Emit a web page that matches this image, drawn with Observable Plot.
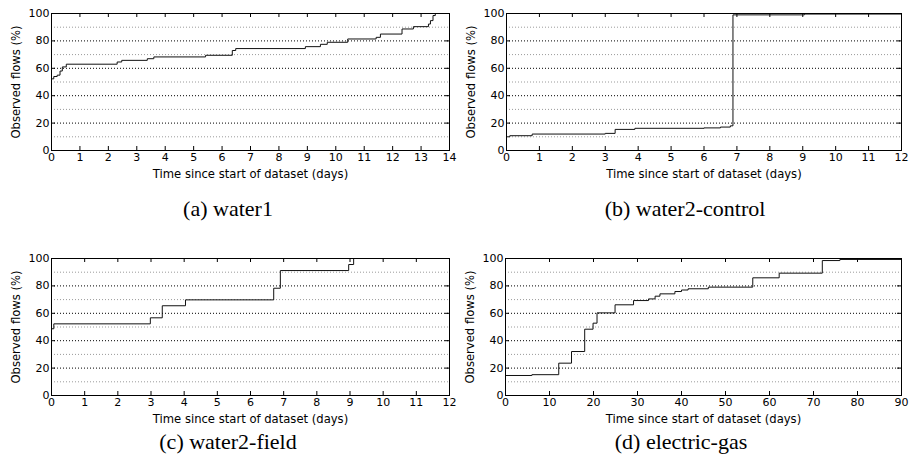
<!DOCTYPE html>
<html><head><meta charset="utf-8">
<script src="https://cdn.jsdelivr.net/npm/d3@7"></script>
<script src="https://cdn.jsdelivr.net/npm/@observablehq/plot@0.6"></script>
<style>
body{margin:0;background:#fff}
#wrap{position:relative;width:911px;height:464px;overflow:hidden;background:#fff}
.panel{position:absolute}
.cap{position:absolute;font-family:"Liberation Serif","DejaVu Serif",serif;font-size:22px;color:#000;transform:translateX(-50%);white-space:nowrap;line-height:1}
</style></head><body><div id="wrap"></div>
<script>
// ---- data ----
const yTicks = [0, 20, 40, 60, 80, 100];
const majorGrid = [20, 40, 60, 80];
const minorGrid = [10, 30, 50, 70, 90];
const xLabel = "Time since start of dataset (days)";
const yLabel = "Observed flows (%)";

const water1Days = [0, 0.08, 0.2, 0.3, 0.38, 0.52, 2.31, 2.47, 3.37, 3.6, 5.42, 6.36, 6.48, 8.93, 9.46, 9.7, 10.42, 11.42, 11.57, 12.33, 12.73, 13.26, 13.33, 13.42, 13.5, 14];
const water1Pct  = [52.3, 54, 55, 58, 61, 63, 64.6, 65.8, 67, 68.3, 69.5, 73, 74.4, 75.8, 77.5, 79, 81.4, 82.6, 85, 88.7, 90.4, 92.3, 94.8, 98.5, 100, 100];
const water1XTicks = [0,1,2,3,4,5,6,7,8,9,10,11,12,13,14];

const controlDays = [0, 0.1, 0.78, 3.0, 3.3, 3.9, 6.0, 6.5, 6.8, 6.88, 9.05, 12];
const controlPct  = [10, 10.8, 12, 12.5, 15.4, 16.2, 16.5, 17.1, 18, 99, 99.6, 99.6];
const controlXTicks = [0,1,2,3,4,5,6,7,8,9,10,11,12];

const fieldDays = [0, 0.07, 2.98, 3.34, 4.04, 6.7, 6.9, 8.96, 9.11, 12];
const fieldPct  = [48.7, 52.3, 56.7, 65.5, 69.8, 78.3, 91.2, 95.6, 100, 100];
const fieldXTicks = [0,1,2,3,4,5,6,7,8,9,10,11,12];

const egDays = [0, 6, 12.1, 15, 18, 19.9, 20.8, 24.9, 29.1, 32.5, 34, 35.1, 38.5, 40, 41.5, 46.1, 56.2, 62.2, 72, 76, 90];
const egPct  = [14.6, 15.2, 23.6, 32.1, 48.4, 52.8, 60.3, 66.2, 69.3, 70.5, 72.5, 74.2, 75.9, 77.0, 77.9, 79.1, 85.9, 89.3, 98.5, 99.3, 99.5];
const egXTicks = [0,10,20,30,40,50,60,70,80,90];

const panels = [
  {days: water1Days, pct: water1Pct, xMax: 14, xTicks: water1XTicks, left: 0, top: 0, ml: 51, mr: 7, caption: "(a) water1", capX: 228, capY: 198},
  {days: controlDays, pct: controlPct, xMax: 12, xTicks: controlXTicks, left: 455, top: 0, ml: 51, mr: 10, caption: "(b) water2-control", capX: 685, capY: 198},
  {days: fieldDays, pct: fieldPct, xMax: 12, xTicks: fieldXTicks, left: 0, top: 245, ml: 51, mr: 7, caption: "(c) water2-field", capX: 228, capY: 431},
  {days: egDays, pct: egPct, xMax: 90, xTicks: egXTicks, left: 455, top: 245, ml: 50, mr: 10, caption: "(d) electric-gas", capX: 681, capY: 431}
];

const wrap = document.getElementById("wrap");
const W = 456, H = 185, MT = 13, MB = 35;

for (const p of panels) {
  const fw = W - p.ml - p.mr, fh = H - MT - MB;
  const data = p.days.map((d, i) => ({t: d, v: p.pct[i]}));
  const chart = Plot.plot({
    width: W, height: H,
    marginLeft: p.ml, marginRight: p.mr, marginTop: MT, marginBottom: MB,
    style: {fontFamily: "DejaVu Sans", fontSize: "11px", background: "transparent", overflow: "visible", color: "#000"},
    x: {domain: [0, p.xMax]},
    y: {domain: [0, 100]},
    marks: [
      Plot.ruleY(minorGrid, {y: d => d, stroke: "#9a9a9a", strokeDasharray: "1,2"}),
      Plot.ruleY(majorGrid, {y: d => d, stroke: "#000", strokeDasharray: "1,2"}),
      Plot.ruleX(p.xTicks, {x: d => d, insetBottom: fh - 4, stroke: "#000"}),
      Plot.ruleX(p.xTicks, {x: d => d, insetTop: fh - 4, stroke: "#000"}),
      Plot.ruleY(yTicks, {y: d => d, insetRight: fw - 4, stroke: "#000"}),
      Plot.ruleY(yTicks, {y: d => d, insetLeft: fw - 4, stroke: "#000"}),
      Plot.line(data, {x: "t", y: "v", curve: "step-after", stroke: "#111", strokeWidth: 1}),
      Plot.frame({stroke: "#000"}),
      Plot.axisX(p.xTicks, {tickSize: 0, tickPadding: 3, label: xLabel, labelAnchor: "center", labelOffset: 27, labelArrow: "none"}),
      Plot.axisY(yTicks, {tickSize: 0, tickPadding: 2, label: yLabel, labelAnchor: "center", labelOffset: 40, labelArrow: "none"})
    ]
  });
  d3.select(chart).selectAll('[aria-label="x-axis label"], [aria-label="y-axis label"]')
    .attr("font-size", "11.6px");
  chart.classList.add("panel");
  chart.style.left = p.left + "px";
  chart.style.top = p.top + "px";
  wrap.appendChild(chart);
  const cap = document.createElement("div");
  cap.className = "cap";
  cap.textContent = p.caption;
  cap.style.left = p.capX + "px";
  cap.style.top = p.capY + "px";
  wrap.appendChild(cap);
}
</script>
</body></html>
